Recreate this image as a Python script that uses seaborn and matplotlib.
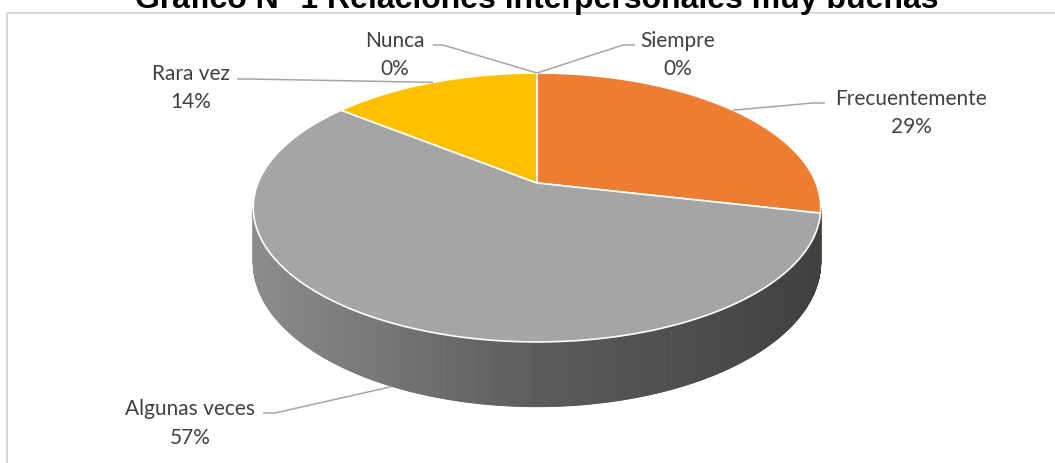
import numpy as np
import seaborn as sns
import matplotlib.pyplot as plt
from matplotlib.colors import to_rgb
from matplotlib.patches import Polygon

# data (clockwise from 12 o'clock, as in the Excel chart)
categorias = ["Siempre", "Frecuentemente", "Algunas veces", "Rara vez", "Nunca"]
frecuencias = [0, 2, 4, 1, 0]
colores = ["#4472C4", "#ED7D31", "#A5A5A5", "#FFC000", "#5B9BD5"]
titulo = "Gráfico N° 1 Relaciones interpersonales muy buenas"

# label layout (pixel positions of name / percentage)
label_x = [678, 911, 190, 191, 395]
label_y = [47, 105, 415, 80, 47]
pct_y = [75, 133, 444, 108, 75]
# leader elbow: (x where the line reaches the label, horizontal end, y)
leader_elbow = [(623, 635, 45), (813, 825, 103), (275, 263, 413), (250, 237, 79), (443, 433, 45)]

# 3d pie geometry (pixels)
CX, CY = 537, 183
A, B, K = 279, 130, 0.182
D = 53


def proj(t, depth=0.0):
    t = np.radians(np.asarray(t, dtype=float))
    u, v = np.sin(t), np.cos(t)
    w = 1 + K * v
    return CX + A * u / w, CY - B * v / w + depth * D / w


sns.set_theme(style="white")
plt.rcParams['font.family'] = ['Lato', 'DejaVu Sans']

fig = plt.figure(figsize=(10.55, 4.63), dpi=100)
ax = fig.add_axes([0, 0, 1, 1])
ax.set_xlim(0, 1055)
ax.set_ylim(463, 0)
ax.axis('off')

total = sum(frecuencias)
pct = [100 * f / total for f in frecuencias]
bordes = np.concatenate([[0], np.cumsum(frecuencias) / total * 360])


def slice_at(t):
    for i in range(len(frecuencias)):
        if frecuencias[i] > 0 and bordes[i] <= t < bordes[i + 1]:
            return i
    return len(frecuencias) - 1


# side wall with horizontal shading
t_side = np.arange(100.5, 259.5, 0.25)
for t in t_side:
    x0, y0 = proj(t)
    x1, y1 = proj(t + 0.25)
    xb0, yb0 = proj(t, 1)
    xb1, yb1 = proj(t + 0.25, 1)
    xm = (x0 + x1) / 2
    shade = np.interp(xm, [253, 540, 821], [0.85, 0.545, 0.39])
    c = np.clip(np.array(to_rgb(colores[slice_at(t + 0.125)])) * shade, 0, 1)
    ax.add_patch(Polygon([(x0, y0), (x1, y1), (xb1, yb1), (xb0, yb0)],
                         closed=True, facecolor=c, edgecolor=c, lw=0.6))

# top face
for i, f in enumerate(frecuencias):
    if f == 0:
        continue
    ts = np.linspace(bordes[i], bordes[i + 1], int((bordes[i + 1] - bordes[i]) * 2) + 2)
    xs, ys = proj(ts)
    pts = [(CX, CY)] + list(zip(xs, ys))
    ax.add_patch(Polygon(pts, closed=True, facecolor=colores[i],
                         edgecolor='white', lw=1.2, joinstyle='round'))

# labels and leader lines
for i, cat in enumerate(categorias):
    mid = (bordes[i] + bordes[i + 1]) / 2
    depth = 1 if 100.5 < mid < 259.5 else 0
    px, py = proj(mid, depth)
    xe, xh, ye = leader_elbow[i]
    ax.plot([px, xe, xh], [py, ye, ye], color='#a6a6a6', lw=1.1, solid_capstyle='butt')
    ax.text(label_x[i], label_y[i], cat, ha='center', va='baseline',
            fontsize=15, color='#404040')
    ax.text(label_x[i], pct_y[i], f"{pct[i]:.0f}%", ha='center', va='baseline',
            fontsize=15, color='#404040')

# chart area border and cut-off title
ax.plot([7, 7, 1060], [470, 12.5, 12.5], color='#d9d9d9', lw=1.5)
ax.text(537, 8, titulo, ha='center', va='baseline', fontsize=23,
        fontweight='bold', family=['Liberation Sans', 'DejaVu Sans'], color='black')

fig.savefig('out.png', dpi=100)
